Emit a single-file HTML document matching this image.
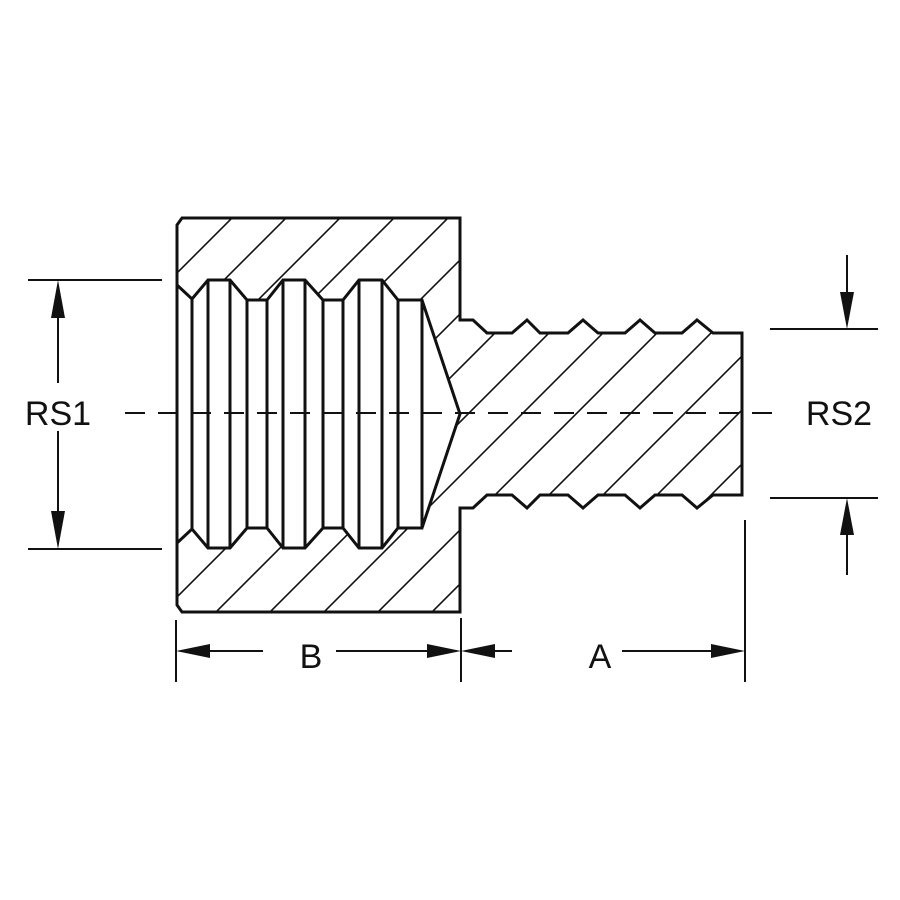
<!DOCTYPE html>
<html><head><style>html,body{margin:0;padding:0;background:#fff}svg{display:block}</style></head><body>
<svg width="900" height="900" viewBox="0 0 900 900" xmlns="http://www.w3.org/2000/svg">
<defs>
<clipPath id="c">
<path clip-rule="evenodd" d="M182,218 L460,218 L460,320 L473,320 L487,333 L512,333 L527,320 L540,333 L568,333 L583,320 L598,333 L625,333 L640,320 L655,333 L682,333 L697,320 L713,333 L742,333 L742,495 L713,495 L697,508 L682,495 L655,495 L640,508 L625,495 L598,495 L583,508 L568,495 L540,495 L527,508 L512,495 L487,495 L473,508 L460,508 L460,612 L182,612 L177,605 L177,225 Z
M177,285 L192,299 L208,280 L230,280 L247,300 L267,300 L283,280 L305,280 L323,300 L343,300 L359,280 L382,280 L398,300 L422,300 L460,414 L422,528 L398,528 L382,548 L359,548 L343,528 L323,528 L305,548 L283,548 L267,528 L247,528 L230,548 L208,548 L192,529 L177,543 Z"/>
</clipPath>
<line id="h" x1="0" y1="900" x2="900" y2="0" stroke="#111" stroke-width="1.6"/>
</defs>
<g clip-path="url(#c)">
<use href="#h" x="-450"/><use href="#h" x="-396"/><use href="#h" x="-342"/><use href="#h" x="-288"/><use href="#h" x="-234"/><use href="#h" x="-180"/><use href="#h" x="-126"/><use href="#h" x="-72"/><use href="#h" x="-18"/><use href="#h" x="36"/><use href="#h" x="90"/><use href="#h" x="144"/><use href="#h" x="198"/><use href="#h" x="252"/><use href="#h" x="306"/><use href="#h" x="360"/><use href="#h" x="414"/><use href="#h" x="468"/><use href="#h" x="522"/><use href="#h" x="576"/>
</g>
<g fill="none" stroke="#111" stroke-width="3" stroke-linejoin="miter">
<path d="M182,218 L460,218 L460,320 L473,320 L487,333 L512,333 L527,320 L540,333 L568,333 L583,320 L598,333 L625,333 L640,320 L655,333 L682,333 L697,320 L713,333 L742,333 L742,495 L713,495 L697,508 L682,495 L655,495 L640,508 L625,495 L598,495 L583,508 L568,495 L540,495 L527,508 L512,495 L487,495 L473,508 L460,508 L460,612 L182,612 L177,605 L177,225 Z"/>
<path d="M177,285 L192,299 L208,280 L230,280 L247,300 L267,300 L283,280 L305,280 L323,300 L343,300 L359,280 L382,280 L398,300 L422,300 L460,414 L422,528 L398,528 L382,548 L359,548 L343,528 L323,528 L305,548 L283,548 L267,528 L247,528 L230,548 L208,548 L192,529 L177,543"/>
<path d="M192,299 V529 M208,280 V548 M230,280 V548 M247,300 V528 M267,300 V528 M283,280 V548 M305,280 V548 M323,300 V528 M343,300 V528 M359,280 V548 M382,280 V548 M398,300 V528 M422,300 V528"/>
</g>
<g stroke="#111" stroke-width="2" fill="none">
<line x1="125" y1="413" x2="778" y2="413" stroke-dasharray="20,13"/>
<line x1="28" y1="280" x2="162" y2="280"/><line x1="28" y1="549" x2="162" y2="549"/>
<line x1="58" y1="300" x2="58" y2="383"/><line x1="58" y1="431" x2="58" y2="530"/>
<line x1="770" y1="329" x2="878" y2="329"/><line x1="770" y1="498" x2="878" y2="498"/>
<line x1="847" y1="255" x2="847" y2="310"/><line x1="847" y1="518" x2="847" y2="575"/>
<line x1="176" y1="620" x2="176" y2="682"/><line x1="461" y1="618" x2="461" y2="682"/><line x1="745" y1="520" x2="745" y2="682"/>
<line x1="190" y1="651" x2="263" y2="651"/><line x1="316" y1="651" x2="445" y2="651"/>
<line x1="475" y1="651" x2="512" y2="651"/><line x1="565" y1="651" x2="730" y2="651"/>
</g>
<g stroke="#fff" stroke-width="4">
<line x1="268" y1="651" x2="312" y2="651"/><line x1="518" y1="651" x2="560" y2="651"/>
</g>
<g stroke="#111" stroke-width="2">
<line x1="340" y1="651" x2="445" y2="651"/><line x1="625" y1="651" x2="730" y2="651"/>
</g>
<g stroke="#fff" stroke-width="4">
<line x1="266" y1="651" x2="336" y2="651"/><line x1="514" y1="651" x2="622" y2="651"/>
</g>
<g fill="#111">
<polygon points="58,280 51,318 65,318"/><polygon points="58,549 51,511 65,511"/>
<polygon points="847,329 840,292 854,292"/><polygon points="847,498 840,535 854,535"/>
<polygon points="176,651 210,644 210,658"/><polygon points="461,651 427,644 427,658"/>
<polygon points="461,651 495,644 495,658"/><polygon points="745,651 711,644 711,658"/>
</g>
<g font-family="Liberation Sans, sans-serif" font-size="34" fill="#111" text-anchor="middle">
<text x="58" y="425">RS1</text>
<text x="839" y="425">RS2</text>
<text x="311" y="668">B</text>
<text x="600" y="668">A</text>
</g>
</svg>
</body></html>
